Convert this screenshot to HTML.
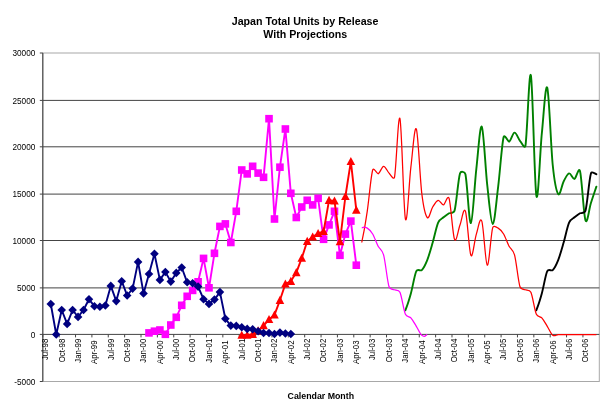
<!DOCTYPE html>
<html lang="en"><head><meta charset="utf-8"><title>Japan Total Units by Release With Projections</title>
<style>html,body{margin:0;padding:0;background:#fff}body{width:608px;height:415px;overflow:hidden}svg{display:block}text{font-family:"Liberation Sans",Arial,sans-serif;fill:#000}</style></head><body>
<svg width="608" height="415" viewBox="0 0 608 415">
<rect width="608" height="415" fill="#fff"/>
<rect x="42.80" y="53.00" width="556.50" height="328.50" fill="none" stroke="#a8a8a8" stroke-width="1"/>
<line x1="42.80" y1="100.40" x2="599.30" y2="100.40" stroke="#444" stroke-width="1"/>
<line x1="42.80" y1="146.80" x2="599.30" y2="146.80" stroke="#444" stroke-width="1"/>
<line x1="42.80" y1="194.10" x2="599.30" y2="194.10" stroke="#444" stroke-width="1"/>
<line x1="42.80" y1="240.50" x2="599.30" y2="240.50" stroke="#444" stroke-width="1"/>
<line x1="42.80" y1="287.90" x2="599.30" y2="287.90" stroke="#444" stroke-width="1"/>
<line x1="42.80" y1="334.40" x2="599.30" y2="334.40" stroke="#444" stroke-width="1"/>
<line x1="42.80" y1="53.00" x2="42.80" y2="381.50" stroke="#444" stroke-width="1.1"/>
<line x1="39.80" y1="53.00" x2="42.80" y2="53.00" stroke="#444" stroke-width="1"/>
<text x="12.40" y="56.35" font-size="9.3" textLength="22.90" lengthAdjust="spacingAndGlyphs">30000</text>
<line x1="39.80" y1="100.40" x2="42.80" y2="100.40" stroke="#444" stroke-width="1"/>
<text x="12.40" y="103.75" font-size="9.3" textLength="22.90" lengthAdjust="spacingAndGlyphs">25000</text>
<line x1="39.80" y1="146.80" x2="42.80" y2="146.80" stroke="#444" stroke-width="1"/>
<text x="12.40" y="150.15" font-size="9.3" textLength="22.90" lengthAdjust="spacingAndGlyphs">20000</text>
<line x1="39.80" y1="194.10" x2="42.80" y2="194.10" stroke="#444" stroke-width="1"/>
<text x="12.40" y="197.45" font-size="9.3" textLength="22.90" lengthAdjust="spacingAndGlyphs">15000</text>
<line x1="39.80" y1="240.50" x2="42.80" y2="240.50" stroke="#444" stroke-width="1"/>
<text x="12.40" y="243.85" font-size="9.3" textLength="22.90" lengthAdjust="spacingAndGlyphs">10000</text>
<line x1="39.80" y1="287.90" x2="42.80" y2="287.90" stroke="#444" stroke-width="1"/>
<text x="16.98" y="291.25" font-size="9.3" textLength="18.32" lengthAdjust="spacingAndGlyphs">5000</text>
<line x1="39.80" y1="334.40" x2="42.80" y2="334.40" stroke="#444" stroke-width="1"/>
<text x="30.72" y="337.75" font-size="9.3" textLength="4.58" lengthAdjust="spacingAndGlyphs">0</text>
<line x1="39.80" y1="381.50" x2="42.80" y2="381.50" stroke="#444" stroke-width="1"/>
<text x="14.23" y="384.85" font-size="9.3" textLength="21.07" lengthAdjust="spacingAndGlyphs">-5000</text>
<line x1="42.80" y1="334.40" x2="42.80" y2="337.40" stroke="#444" stroke-width="1"/>
<text transform="translate(45.13,338.70) rotate(-90)" font-size="8.4" textLength="21.38" lengthAdjust="spacingAndGlyphs" x="-21.38" y="3.0">Jul-98</text>
<line x1="59.17" y1="334.40" x2="59.17" y2="337.40" stroke="#444" stroke-width="1"/>
<text transform="translate(61.50,338.70) rotate(-90)" font-size="8.4" textLength="23.54" lengthAdjust="spacingAndGlyphs" x="-23.54" y="3.0">Oct-98</text>
<line x1="75.54" y1="334.40" x2="75.54" y2="337.40" stroke="#444" stroke-width="1"/>
<text transform="translate(77.86,338.70) rotate(-90)" font-size="8.4" textLength="23.99" lengthAdjust="spacingAndGlyphs" x="-23.99" y="3.0">Jan-99</text>
<line x1="91.90" y1="334.40" x2="91.90" y2="337.40" stroke="#444" stroke-width="1"/>
<text transform="translate(94.23,340.40) rotate(-90)" font-size="8.4" textLength="23.57" lengthAdjust="spacingAndGlyphs" x="-23.57" y="3.0">Apr-99</text>
<line x1="108.27" y1="334.40" x2="108.27" y2="337.40" stroke="#444" stroke-width="1"/>
<text transform="translate(110.60,338.70) rotate(-90)" font-size="8.4" textLength="21.38" lengthAdjust="spacingAndGlyphs" x="-21.38" y="3.0">Jul-99</text>
<line x1="124.64" y1="334.40" x2="124.64" y2="337.40" stroke="#444" stroke-width="1"/>
<text transform="translate(126.97,338.70) rotate(-90)" font-size="8.4" textLength="23.54" lengthAdjust="spacingAndGlyphs" x="-23.54" y="3.0">Oct-99</text>
<line x1="141.01" y1="334.40" x2="141.01" y2="337.40" stroke="#444" stroke-width="1"/>
<text transform="translate(143.33,338.70) rotate(-90)" font-size="8.4" textLength="23.99" lengthAdjust="spacingAndGlyphs" x="-23.99" y="3.0">Jan-00</text>
<line x1="157.37" y1="334.40" x2="157.37" y2="337.40" stroke="#444" stroke-width="1"/>
<text transform="translate(159.70,340.40) rotate(-90)" font-size="8.4" textLength="23.57" lengthAdjust="spacingAndGlyphs" x="-23.57" y="3.0">Apr-00</text>
<line x1="173.74" y1="334.40" x2="173.74" y2="337.40" stroke="#444" stroke-width="1"/>
<text transform="translate(176.07,338.70) rotate(-90)" font-size="8.4" textLength="21.38" lengthAdjust="spacingAndGlyphs" x="-21.38" y="3.0">Jul-00</text>
<line x1="190.11" y1="334.40" x2="190.11" y2="337.40" stroke="#444" stroke-width="1"/>
<text transform="translate(192.44,338.70) rotate(-90)" font-size="8.4" textLength="23.54" lengthAdjust="spacingAndGlyphs" x="-23.54" y="3.0">Oct-00</text>
<line x1="206.48" y1="334.40" x2="206.48" y2="337.40" stroke="#444" stroke-width="1"/>
<text transform="translate(208.80,338.70) rotate(-90)" font-size="8.4" textLength="23.99" lengthAdjust="spacingAndGlyphs" x="-23.99" y="3.0">Jan-01</text>
<line x1="222.84" y1="334.40" x2="222.84" y2="337.40" stroke="#444" stroke-width="1"/>
<text transform="translate(225.17,340.40) rotate(-90)" font-size="8.4" textLength="23.57" lengthAdjust="spacingAndGlyphs" x="-23.57" y="3.0">Apr-01</text>
<line x1="239.21" y1="334.40" x2="239.21" y2="337.40" stroke="#444" stroke-width="1"/>
<text transform="translate(241.54,338.70) rotate(-90)" font-size="8.4" textLength="21.38" lengthAdjust="spacingAndGlyphs" x="-21.38" y="3.0">Jul-01</text>
<line x1="255.58" y1="334.40" x2="255.58" y2="337.40" stroke="#444" stroke-width="1"/>
<text transform="translate(257.91,338.70) rotate(-90)" font-size="8.4" textLength="23.54" lengthAdjust="spacingAndGlyphs" x="-23.54" y="3.0">Oct-01</text>
<line x1="271.95" y1="334.40" x2="271.95" y2="337.40" stroke="#444" stroke-width="1"/>
<text transform="translate(274.28,338.70) rotate(-90)" font-size="8.4" textLength="23.99" lengthAdjust="spacingAndGlyphs" x="-23.99" y="3.0">Jan-02</text>
<line x1="288.31" y1="334.40" x2="288.31" y2="337.40" stroke="#444" stroke-width="1"/>
<text transform="translate(290.64,340.40) rotate(-90)" font-size="8.4" textLength="23.57" lengthAdjust="spacingAndGlyphs" x="-23.57" y="3.0">Apr-02</text>
<line x1="304.68" y1="334.40" x2="304.68" y2="337.40" stroke="#444" stroke-width="1"/>
<text transform="translate(307.01,338.70) rotate(-90)" font-size="8.4" textLength="21.38" lengthAdjust="spacingAndGlyphs" x="-21.38" y="3.0">Jul-02</text>
<line x1="321.05" y1="334.40" x2="321.05" y2="337.40" stroke="#444" stroke-width="1"/>
<text transform="translate(323.38,338.70) rotate(-90)" font-size="8.4" textLength="23.54" lengthAdjust="spacingAndGlyphs" x="-23.54" y="3.0">Oct-02</text>
<line x1="337.42" y1="334.40" x2="337.42" y2="337.40" stroke="#444" stroke-width="1"/>
<text transform="translate(339.75,338.70) rotate(-90)" font-size="8.4" textLength="23.99" lengthAdjust="spacingAndGlyphs" x="-23.99" y="3.0">Jan-03</text>
<line x1="353.79" y1="334.40" x2="353.79" y2="337.40" stroke="#444" stroke-width="1"/>
<text transform="translate(356.11,340.40) rotate(-90)" font-size="8.4" textLength="23.57" lengthAdjust="spacingAndGlyphs" x="-23.57" y="3.0">Apr-03</text>
<line x1="370.15" y1="334.40" x2="370.15" y2="337.40" stroke="#444" stroke-width="1"/>
<text transform="translate(372.48,338.70) rotate(-90)" font-size="8.4" textLength="21.38" lengthAdjust="spacingAndGlyphs" x="-21.38" y="3.0">Jul-03</text>
<line x1="386.52" y1="334.40" x2="386.52" y2="337.40" stroke="#444" stroke-width="1"/>
<text transform="translate(388.85,338.70) rotate(-90)" font-size="8.4" textLength="23.54" lengthAdjust="spacingAndGlyphs" x="-23.54" y="3.0">Oct-03</text>
<line x1="402.89" y1="334.40" x2="402.89" y2="337.40" stroke="#444" stroke-width="1"/>
<text transform="translate(405.22,338.70) rotate(-90)" font-size="8.4" textLength="23.99" lengthAdjust="spacingAndGlyphs" x="-23.99" y="3.0">Jan-04</text>
<line x1="419.26" y1="334.40" x2="419.26" y2="337.40" stroke="#444" stroke-width="1"/>
<text transform="translate(421.58,340.40) rotate(-90)" font-size="8.4" textLength="23.57" lengthAdjust="spacingAndGlyphs" x="-23.57" y="3.0">Apr-04</text>
<line x1="435.62" y1="334.40" x2="435.62" y2="337.40" stroke="#444" stroke-width="1"/>
<text transform="translate(437.95,338.70) rotate(-90)" font-size="8.4" textLength="21.38" lengthAdjust="spacingAndGlyphs" x="-21.38" y="3.0">Jul-04</text>
<line x1="451.99" y1="334.40" x2="451.99" y2="337.40" stroke="#444" stroke-width="1"/>
<text transform="translate(454.32,338.70) rotate(-90)" font-size="8.4" textLength="23.54" lengthAdjust="spacingAndGlyphs" x="-23.54" y="3.0">Oct-04</text>
<line x1="468.36" y1="334.40" x2="468.36" y2="337.40" stroke="#444" stroke-width="1"/>
<text transform="translate(470.69,338.70) rotate(-90)" font-size="8.4" textLength="23.99" lengthAdjust="spacingAndGlyphs" x="-23.99" y="3.0">Jan-05</text>
<line x1="484.73" y1="334.40" x2="484.73" y2="337.40" stroke="#444" stroke-width="1"/>
<text transform="translate(487.05,340.40) rotate(-90)" font-size="8.4" textLength="23.57" lengthAdjust="spacingAndGlyphs" x="-23.57" y="3.0">Apr-05</text>
<line x1="501.09" y1="334.40" x2="501.09" y2="337.40" stroke="#444" stroke-width="1"/>
<text transform="translate(503.42,338.70) rotate(-90)" font-size="8.4" textLength="21.38" lengthAdjust="spacingAndGlyphs" x="-21.38" y="3.0">Jul-05</text>
<line x1="517.46" y1="334.40" x2="517.46" y2="337.40" stroke="#444" stroke-width="1"/>
<text transform="translate(519.79,338.70) rotate(-90)" font-size="8.4" textLength="23.54" lengthAdjust="spacingAndGlyphs" x="-23.54" y="3.0">Oct-05</text>
<line x1="533.83" y1="334.40" x2="533.83" y2="337.40" stroke="#444" stroke-width="1"/>
<text transform="translate(536.16,338.70) rotate(-90)" font-size="8.4" textLength="23.99" lengthAdjust="spacingAndGlyphs" x="-23.99" y="3.0">Jan-06</text>
<line x1="550.20" y1="334.40" x2="550.20" y2="337.40" stroke="#444" stroke-width="1"/>
<text transform="translate(552.52,340.40) rotate(-90)" font-size="8.4" textLength="23.57" lengthAdjust="spacingAndGlyphs" x="-23.57" y="3.0">Apr-06</text>
<line x1="566.56" y1="334.40" x2="566.56" y2="337.40" stroke="#444" stroke-width="1"/>
<text transform="translate(568.89,338.70) rotate(-90)" font-size="8.4" textLength="21.38" lengthAdjust="spacingAndGlyphs" x="-21.38" y="3.0">Jul-06</text>
<line x1="582.93" y1="334.40" x2="582.93" y2="337.40" stroke="#444" stroke-width="1"/>
<text transform="translate(585.26,338.70) rotate(-90)" font-size="8.4" textLength="23.54" lengthAdjust="spacingAndGlyphs" x="-23.54" y="3.0">Oct-06</text>
<path d="M405.42 310.30 C407.23 304.67 407.23 306.49 410.87 293.42 C412.69 286.89 414.51 274.99 416.33 271.10 C417.50 268.59 420.61 271.28 421.78 270.10 C423.60 268.27 425.42 264.68 427.24 260.10 C429.06 255.52 430.88 248.85 432.70 242.60 C434.51 236.35 436.33 226.83 438.15 222.62 C439.66 219.14 442.10 218.63 443.61 217.34 C445.43 215.78 447.24 214.34 449.06 213.26 C449.85 212.79 453.73 213.73 454.52 210.86 C456.34 204.22 458.16 179.52 459.98 173.42 C460.76 170.77 464.84 171.56 465.43 174.26 C467.25 182.54 469.07 224.00 470.89 223.10 C472.71 222.20 474.52 184.92 476.34 168.86 C478.16 152.80 479.98 124.02 481.80 126.74 C483.62 129.46 485.44 168.96 487.25 185.18 C489.07 201.40 490.89 223.82 492.71 224.06 C494.53 224.30 496.35 201.12 498.17 186.62 C499.98 172.12 501.80 144.54 503.62 137.06 C504.47 133.57 508.23 142.09 509.08 141.74 C510.90 141.00 512.72 132.78 514.53 132.62 C516.35 132.46 518.17 138.58 519.99 140.78 C520.60 141.52 524.83 149.48 525.45 145.82 C527.26 134.94 529.08 67.16 530.90 75.50 C532.72 83.84 534.54 186.16 536.36 195.86 C538.18 205.56 539.99 151.70 541.81 133.70 C543.63 115.70 545.45 82.64 547.27 87.86 C549.09 93.08 550.91 147.32 552.73 165.02 C554.24 179.72 556.67 191.78 558.18 194.06 C560.00 196.80 561.82 184.90 563.64 181.46 C565.46 178.02 567.27 173.84 569.09 173.42 C570.91 173.00 572.73 179.34 574.55 178.94 C575.78 178.67 578.78 166.37 580.00 171.02 C581.82 177.90 583.64 214.90 585.46 220.22 C587.28 225.54 589.10 208.54 590.92 202.94 C594.55 191.74 594.55 192.06 596.37 186.62" fill="none" stroke="#008000" stroke-width="1.9" stroke-linejoin="round" stroke-linecap="round"/>
<path d="M536.36 310.30 C538.18 304.67 538.18 306.49 541.81 293.42 C543.63 286.89 545.45 274.99 547.27 271.10 C548.44 268.59 551.55 271.28 552.73 270.10 C554.54 268.27 556.36 264.68 558.18 260.10 C560.00 255.52 561.82 248.85 563.64 242.60 C565.46 236.35 567.27 226.83 569.09 222.62 C570.60 219.14 573.04 218.63 574.55 217.34 C576.37 215.78 578.19 214.34 580.00 213.26 C580.79 212.79 584.67 213.73 585.46 210.86 C587.28 204.22 589.10 179.52 590.92 173.42 C591.70 170.77 595.98 174.20 596.37 174.26" fill="none" stroke="#000" stroke-width="1.9" stroke-linejoin="round" stroke-linecap="round"/>
<path d="M361.77 242.50 C363.59 232.10 363.59 235.47 367.23 211.30 C369.04 199.22 370.86 176.23 372.68 170.00 C373.62 166.78 377.20 174.22 378.14 173.90 C379.96 173.28 381.77 166.43 383.59 166.30 C385.41 166.17 387.23 171.27 389.05 173.10 C389.73 173.78 393.83 180.68 394.50 177.30 C396.32 168.23 398.14 111.75 399.96 118.70 C401.78 125.65 403.60 210.92 405.42 219.00 C407.23 227.08 409.05 182.20 410.87 167.20 C412.69 152.20 414.51 124.65 416.33 129.00 C418.15 133.35 419.97 178.55 421.78 193.30 C423.30 205.61 425.72 215.59 427.24 217.50 C429.06 219.78 430.88 209.87 432.70 207.00 C434.51 204.13 436.33 200.65 438.15 200.30 C439.97 199.95 441.79 205.23 443.61 204.90 C444.90 204.66 447.77 194.22 449.06 198.30 C450.88 204.03 452.70 234.87 454.52 239.30 C456.34 243.73 458.16 229.57 459.98 224.90 C461.79 220.23 463.61 206.23 465.43 211.30 C467.25 216.37 469.07 251.50 470.89 255.30 C472.71 259.10 474.52 239.80 476.34 234.10 C478.16 228.40 479.98 215.92 481.80 221.10 C483.62 226.28 485.44 264.12 487.25 265.20 C489.07 266.28 490.89 233.78 492.71 227.60 C493.48 224.97 497.39 227.65 498.17 228.10 C499.98 229.17 501.80 230.97 503.62 234.00 C505.44 237.03 507.26 242.83 509.08 246.30 C510.39 248.80 513.22 249.92 514.53 254.80 C516.35 261.55 518.17 280.97 519.99 286.80 C520.92 289.77 524.52 289.33 525.45 289.80 C526.67 290.42 529.68 289.56 530.90 292.30 C532.72 296.38 534.54 310.05 536.36 314.30 C537.63 317.28 540.54 316.40 541.81 317.80 C543.63 319.80 545.45 323.38 547.27 326.30 C549.09 329.22 550.91 333.90 552.73 335.30 C554.54 336.70 556.36 334.80 558.18 334.70 C560.00 334.60 561.82 334.70 563.64 334.70 C565.46 334.70 567.27 334.70 569.09 334.70 C570.91 334.70 572.73 334.70 574.55 334.70 C576.37 334.70 578.19 334.70 580.00 334.70 C581.82 334.70 583.64 334.70 585.46 334.70 C587.28 334.70 589.10 334.70 590.92 334.70 C594.55 334.70 594.55 334.70 596.37 334.70" fill="none" stroke="#f00" stroke-width="1.25" stroke-linejoin="round"/>
<path d="M361.77 227.60 C363.59 227.77 363.59 225.97 367.23 228.10 C369.04 229.17 370.86 230.97 372.68 234.00 C374.50 237.03 376.32 242.83 378.14 246.30 C379.45 248.80 382.28 249.92 383.59 254.80 C385.41 261.55 387.23 280.97 389.05 286.80 C389.98 289.77 393.58 289.33 394.50 289.80 C395.73 290.42 398.74 289.56 399.96 292.30 C401.78 296.38 403.60 310.05 405.42 314.30 C406.69 317.28 409.60 316.40 410.87 317.80 C412.69 319.80 414.51 323.38 416.33 326.30 C418.15 329.22 419.97 333.90 421.78 335.30 C425.42 338.10 425.42 334.90 427.24 334.70" fill="none" stroke="#f0f" stroke-width="1.25" stroke-linejoin="round"/>
<path d="M148.99 332.90 L154.45 331.20 L159.90 330.00 L165.36 334.30 L170.81 325.00 L176.27 317.30 L181.72 305.30 L187.18 296.30 L192.64 290.40 L198.09 281.80 L203.55 258.40 L209.00 287.80 L214.46 253.30 L219.92 226.40 L225.37 223.90 L230.83 242.50 L236.28 211.30 L241.74 170.00 L247.20 173.90 L252.65 166.30 L258.11 173.10 L263.56 177.30 L269.02 118.70 L274.48 219.00 L279.93 167.20 L285.39 129.00 L290.84 193.30 L296.30 217.50 L301.75 207.00 L307.21 200.30 L312.67 204.90 L318.12 198.30 L323.58 239.30 L329.03 224.90 L334.49 211.30 L339.95 255.30 L345.40 234.10 L350.86 221.10 L356.31 265.20" fill="none" stroke="#f0f" stroke-width="1.9" stroke-linejoin="round"/>
<rect x="145.19" y="329.10" width="7.6" height="7.6" fill="#f0f"/>
<rect x="150.65" y="327.40" width="7.6" height="7.6" fill="#f0f"/>
<rect x="156.10" y="326.20" width="7.6" height="7.6" fill="#f0f"/>
<rect x="161.56" y="330.50" width="7.6" height="7.6" fill="#f0f"/>
<rect x="167.01" y="321.20" width="7.6" height="7.6" fill="#f0f"/>
<rect x="172.47" y="313.50" width="7.6" height="7.6" fill="#f0f"/>
<rect x="177.92" y="301.50" width="7.6" height="7.6" fill="#f0f"/>
<rect x="183.38" y="292.50" width="7.6" height="7.6" fill="#f0f"/>
<rect x="188.84" y="286.60" width="7.6" height="7.6" fill="#f0f"/>
<rect x="194.29" y="278.00" width="7.6" height="7.6" fill="#f0f"/>
<rect x="199.75" y="254.60" width="7.6" height="7.6" fill="#f0f"/>
<rect x="205.20" y="284.00" width="7.6" height="7.6" fill="#f0f"/>
<rect x="210.66" y="249.50" width="7.6" height="7.6" fill="#f0f"/>
<rect x="216.12" y="222.60" width="7.6" height="7.6" fill="#f0f"/>
<rect x="221.57" y="220.10" width="7.6" height="7.6" fill="#f0f"/>
<rect x="227.03" y="238.70" width="7.6" height="7.6" fill="#f0f"/>
<rect x="232.48" y="207.50" width="7.6" height="7.6" fill="#f0f"/>
<rect x="237.94" y="166.20" width="7.6" height="7.6" fill="#f0f"/>
<rect x="243.40" y="170.10" width="7.6" height="7.6" fill="#f0f"/>
<rect x="248.85" y="162.50" width="7.6" height="7.6" fill="#f0f"/>
<rect x="254.31" y="169.30" width="7.6" height="7.6" fill="#f0f"/>
<rect x="259.76" y="173.50" width="7.6" height="7.6" fill="#f0f"/>
<rect x="265.22" y="114.90" width="7.6" height="7.6" fill="#f0f"/>
<rect x="270.68" y="215.20" width="7.6" height="7.6" fill="#f0f"/>
<rect x="276.13" y="163.40" width="7.6" height="7.6" fill="#f0f"/>
<rect x="281.59" y="125.20" width="7.6" height="7.6" fill="#f0f"/>
<rect x="287.04" y="189.50" width="7.6" height="7.6" fill="#f0f"/>
<rect x="292.50" y="213.70" width="7.6" height="7.6" fill="#f0f"/>
<rect x="297.95" y="203.20" width="7.6" height="7.6" fill="#f0f"/>
<rect x="303.41" y="196.50" width="7.6" height="7.6" fill="#f0f"/>
<rect x="308.87" y="201.10" width="7.6" height="7.6" fill="#f0f"/>
<rect x="314.32" y="194.50" width="7.6" height="7.6" fill="#f0f"/>
<rect x="319.78" y="235.50" width="7.6" height="7.6" fill="#f0f"/>
<rect x="325.23" y="221.10" width="7.6" height="7.6" fill="#f0f"/>
<rect x="330.69" y="207.50" width="7.6" height="7.6" fill="#f0f"/>
<rect x="336.15" y="251.50" width="7.6" height="7.6" fill="#f0f"/>
<rect x="341.60" y="230.30" width="7.6" height="7.6" fill="#f0f"/>
<rect x="347.06" y="217.30" width="7.6" height="7.6" fill="#f0f"/>
<rect x="352.51" y="261.40" width="7.6" height="7.6" fill="#f0f"/>
<path d="M241.74 335.20 L247.20 335.20 L252.65 334.30 L258.11 330.80 L263.56 325.60 L269.02 319.50 L274.48 314.90 L279.93 300.30 L285.39 283.90 L290.84 281.30 L296.30 272.60 L301.75 258.20 L307.21 241.30 L312.67 236.90 L318.12 233.50 L323.58 231.50 L329.03 200.30 L334.49 201.00 L339.95 241.70 L345.40 196.50 L350.86 161.40 L356.31 210.10" fill="none" stroke="#f00" stroke-width="1.9" stroke-linejoin="round"/>
<path d="M241.74 330.70 L246.04 338.80 L237.44 338.80 Z" fill="#f00"/>
<path d="M247.20 330.70 L251.50 338.80 L242.90 338.80 Z" fill="#f00"/>
<path d="M252.65 329.80 L256.95 337.90 L248.35 337.90 Z" fill="#f00"/>
<path d="M258.11 326.30 L262.41 334.40 L253.81 334.40 Z" fill="#f00"/>
<path d="M263.56 321.10 L267.86 329.20 L259.26 329.20 Z" fill="#f00"/>
<path d="M269.02 315.00 L273.32 323.10 L264.72 323.10 Z" fill="#f00"/>
<path d="M274.48 310.40 L278.78 318.50 L270.18 318.50 Z" fill="#f00"/>
<path d="M279.93 295.80 L284.23 303.90 L275.63 303.90 Z" fill="#f00"/>
<path d="M285.39 279.40 L289.69 287.50 L281.09 287.50 Z" fill="#f00"/>
<path d="M290.84 276.80 L295.14 284.90 L286.54 284.90 Z" fill="#f00"/>
<path d="M296.30 268.10 L300.60 276.20 L292.00 276.20 Z" fill="#f00"/>
<path d="M301.75 253.70 L306.05 261.80 L297.45 261.80 Z" fill="#f00"/>
<path d="M307.21 236.80 L311.51 244.90 L302.91 244.90 Z" fill="#f00"/>
<path d="M312.67 232.40 L316.97 240.50 L308.37 240.50 Z" fill="#f00"/>
<path d="M318.12 229.00 L322.42 237.10 L313.82 237.10 Z" fill="#f00"/>
<path d="M323.58 227.00 L327.88 235.10 L319.28 235.10 Z" fill="#f00"/>
<path d="M329.03 195.80 L333.33 203.90 L324.73 203.90 Z" fill="#f00"/>
<path d="M334.49 196.50 L338.79 204.60 L330.19 204.60 Z" fill="#f00"/>
<path d="M339.95 237.20 L344.25 245.30 L335.65 245.30 Z" fill="#f00"/>
<path d="M345.40 192.00 L349.70 200.10 L341.10 200.10 Z" fill="#f00"/>
<path d="M350.86 156.90 L355.16 165.00 L346.56 165.00 Z" fill="#f00"/>
<path d="M356.31 205.60 L360.61 213.70 L352.01 213.70 Z" fill="#f00"/>
<path d="M50.78 304.00 L56.24 334.50 L61.70 310.00 L67.15 323.90 L72.61 310.00 L78.06 316.90 L83.52 310.00 L88.97 299.30 L94.43 306.20 L99.89 306.80 L105.34 305.50 L110.80 285.90 L116.25 301.10 L121.71 281.20 L127.17 295.50 L132.62 288.60 L138.08 261.90 L143.53 293.40 L148.99 274.00 L154.45 253.80 L159.90 279.90 L165.36 272.00 L170.81 281.60 L176.27 272.90 L181.72 267.50 L187.18 282.30 L192.64 283.20 L198.09 286.60 L203.55 299.20 L209.00 303.90 L214.46 299.60 L219.92 292.10 L225.37 318.80 L230.83 325.60 L236.28 325.90 L241.74 327.20 L247.20 328.90 L252.65 329.30 L258.11 331.30 L263.56 333.00 L269.02 333.00 L274.48 334.00 L279.93 332.60 L285.39 333.50 L290.84 334.00" fill="none" stroke="#000080" stroke-width="1.9" stroke-linejoin="round"/>
<path d="M50.78 299.70 L55.08 304.00 L50.78 308.30 L46.48 304.00 Z" fill="#000080"/>
<path d="M56.24 330.20 L60.54 334.50 L56.24 338.80 L51.94 334.50 Z" fill="#000080"/>
<path d="M61.70 305.70 L66.00 310.00 L61.70 314.30 L57.40 310.00 Z" fill="#000080"/>
<path d="M67.15 319.60 L71.45 323.90 L67.15 328.20 L62.85 323.90 Z" fill="#000080"/>
<path d="M72.61 305.70 L76.91 310.00 L72.61 314.30 L68.31 310.00 Z" fill="#000080"/>
<path d="M78.06 312.60 L82.36 316.90 L78.06 321.20 L73.76 316.90 Z" fill="#000080"/>
<path d="M83.52 305.70 L87.82 310.00 L83.52 314.30 L79.22 310.00 Z" fill="#000080"/>
<path d="M88.97 295.00 L93.27 299.30 L88.97 303.60 L84.67 299.30 Z" fill="#000080"/>
<path d="M94.43 301.90 L98.73 306.20 L94.43 310.50 L90.13 306.20 Z" fill="#000080"/>
<path d="M99.89 302.50 L104.19 306.80 L99.89 311.10 L95.59 306.80 Z" fill="#000080"/>
<path d="M105.34 301.20 L109.64 305.50 L105.34 309.80 L101.04 305.50 Z" fill="#000080"/>
<path d="M110.80 281.60 L115.10 285.90 L110.80 290.20 L106.50 285.90 Z" fill="#000080"/>
<path d="M116.25 296.80 L120.55 301.10 L116.25 305.40 L111.95 301.10 Z" fill="#000080"/>
<path d="M121.71 276.90 L126.01 281.20 L121.71 285.50 L117.41 281.20 Z" fill="#000080"/>
<path d="M127.17 291.20 L131.47 295.50 L127.17 299.80 L122.87 295.50 Z" fill="#000080"/>
<path d="M132.62 284.30 L136.92 288.60 L132.62 292.90 L128.32 288.60 Z" fill="#000080"/>
<path d="M138.08 257.60 L142.38 261.90 L138.08 266.20 L133.78 261.90 Z" fill="#000080"/>
<path d="M143.53 289.10 L147.83 293.40 L143.53 297.70 L139.23 293.40 Z" fill="#000080"/>
<path d="M148.99 269.70 L153.29 274.00 L148.99 278.30 L144.69 274.00 Z" fill="#000080"/>
<path d="M154.45 249.50 L158.75 253.80 L154.45 258.10 L150.15 253.80 Z" fill="#000080"/>
<path d="M159.90 275.60 L164.20 279.90 L159.90 284.20 L155.60 279.90 Z" fill="#000080"/>
<path d="M165.36 267.70 L169.66 272.00 L165.36 276.30 L161.06 272.00 Z" fill="#000080"/>
<path d="M170.81 277.30 L175.11 281.60 L170.81 285.90 L166.51 281.60 Z" fill="#000080"/>
<path d="M176.27 268.60 L180.57 272.90 L176.27 277.20 L171.97 272.90 Z" fill="#000080"/>
<path d="M181.72 263.20 L186.03 267.50 L181.72 271.80 L177.42 267.50 Z" fill="#000080"/>
<path d="M187.18 278.00 L191.48 282.30 L187.18 286.60 L182.88 282.30 Z" fill="#000080"/>
<path d="M192.64 278.90 L196.94 283.20 L192.64 287.50 L188.34 283.20 Z" fill="#000080"/>
<path d="M198.09 282.30 L202.39 286.60 L198.09 290.90 L193.79 286.60 Z" fill="#000080"/>
<path d="M203.55 294.90 L207.85 299.20 L203.55 303.50 L199.25 299.20 Z" fill="#000080"/>
<path d="M209.00 299.60 L213.30 303.90 L209.00 308.20 L204.70 303.90 Z" fill="#000080"/>
<path d="M214.46 295.30 L218.76 299.60 L214.46 303.90 L210.16 299.60 Z" fill="#000080"/>
<path d="M219.92 287.80 L224.22 292.10 L219.92 296.40 L215.62 292.10 Z" fill="#000080"/>
<path d="M225.37 314.50 L229.67 318.80 L225.37 323.10 L221.07 318.80 Z" fill="#000080"/>
<path d="M230.83 321.30 L235.13 325.60 L230.83 329.90 L226.53 325.60 Z" fill="#000080"/>
<path d="M236.28 321.60 L240.58 325.90 L236.28 330.20 L231.98 325.90 Z" fill="#000080"/>
<path d="M241.74 322.90 L246.04 327.20 L241.74 331.50 L237.44 327.20 Z" fill="#000080"/>
<path d="M247.20 324.60 L251.50 328.90 L247.20 333.20 L242.90 328.90 Z" fill="#000080"/>
<path d="M252.65 325.00 L256.95 329.30 L252.65 333.60 L248.35 329.30 Z" fill="#000080"/>
<path d="M258.11 327.00 L262.41 331.30 L258.11 335.60 L253.81 331.30 Z" fill="#000080"/>
<path d="M263.56 328.70 L267.86 333.00 L263.56 337.30 L259.26 333.00 Z" fill="#000080"/>
<path d="M269.02 328.70 L273.32 333.00 L269.02 337.30 L264.72 333.00 Z" fill="#000080"/>
<path d="M274.48 329.70 L278.78 334.00 L274.48 338.30 L270.18 334.00 Z" fill="#000080"/>
<path d="M279.93 328.30 L284.23 332.60 L279.93 336.90 L275.63 332.60 Z" fill="#000080"/>
<path d="M285.39 329.20 L289.69 333.50 L285.39 337.80 L281.09 333.50 Z" fill="#000080"/>
<path d="M290.84 329.70 L295.14 334.00 L290.84 338.30 L286.54 334.00 Z" fill="#000080"/>
<text x="305.1" y="24.6" font-size="10.67" font-weight="bold" text-anchor="middle">Japan Total Units by Release</text>
<text x="305.3" y="38.3" font-size="10.67" font-weight="bold" text-anchor="middle">With Projections</text>
<text x="320.8" y="399.2" font-size="8.8" font-weight="bold" text-anchor="middle">Calendar Month</text>
</svg></body></html>
